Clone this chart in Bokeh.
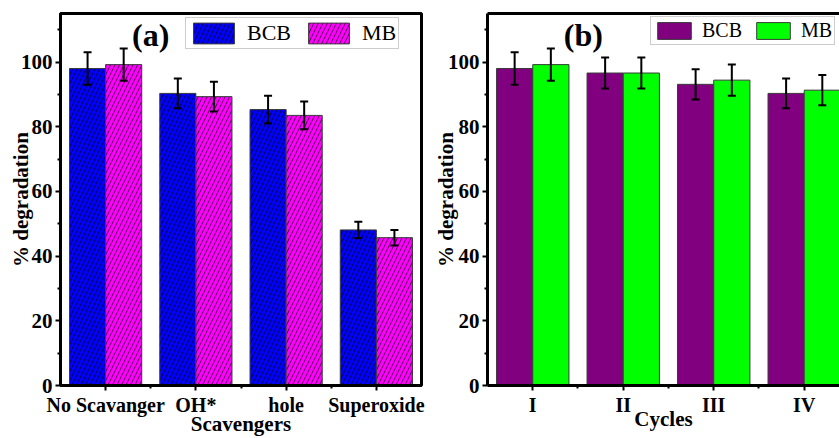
import numpy as np
from bokeh.plotting import figure
from bokeh.layouts import row
from bokeh.models import (ColumnDataSource, Range1d, FixedTicker, Whisker, TeeHead,
                          Legend, LegendItem, Label, LinearAxis)
from bokeh.transform import dodge
from bokeh.embed import file_html
from bokeh.resources import INLINE

# ---- data ----
scav_labels = ["No Scavanger", "OH*", "hole", "Superoxide"]
scav_bcb = [98.0, 90.3, 85.3, 48.1]
scav_bcb_err = [5.0, 4.6, 4.3, 2.5]
scav_mb = [99.2, 89.3, 83.5, 45.7]
scav_mb_err = [5.0, 4.6, 4.3, 2.4]

cycle_labels = ["I", "II", "III", "IV"]
cyc_bcb = [98.0, 96.6, 93.1, 90.3]
cyc_bcb_err = [5.0, 4.8, 4.7, 4.6]
cyc_mb = [99.2, 96.6, 94.4, 91.3]
cyc_mb_err = [5.0, 4.8, 4.8, 4.7]

y_ticks = [0, 20, 40, 60, 80, 100]
y_minor = [10, 30, 50, 70, 90, 110]

FONT = "Liberation Serif"


def make_panel(labels, bcb, bcb_err, mb, mb_err, c1, c2, hatch, width, border_left,
               x_end, xtitle, xt_standoff, yt_standoff, tag, tag_x, leg_loc, leg_glyph,
               leg_font, leg_standoff, leg_spacing, outline):
    n = len(labels)
    xs = list(range(n))
    src = ColumnDataSource(dict(
        x=xs, bcb=bcb, mb=mb,
        bcb_up=[v + e for v, e in zip(bcb, bcb_err)],
        bcb_lo=[v - e for v, e in zip(bcb, bcb_err)],
        mb_up=[v + e for v, e in zip(mb, mb_err)],
        mb_lo=[v - e for v, e in zip(mb, mb_err)],
    ))
    p = figure(width=width, height=438, x_range=Range1d(-0.5, x_end), y_range=Range1d(0, 115),
               output_backend="svg", toolbar_location=None,
               min_border_left=border_left, min_border_right=4 if outline else 0,
               min_border_top=13, min_border_bottom=51)
    p.grid.visible = False
    p.background_fill_color = "white"
    hk = {}
    if hatch:
        hk = dict(hatch_pattern="/", hatch_color="black", hatch_scale=9, hatch_weight=0.7)
    r1 = p.vbar(x=dodge('x', -0.2), top='bcb', width=0.4, source=src, fill_color=c1,
                line_color="#3a3a3a", line_width=1, **hk)
    r2 = p.vbar(x=dodge('x', 0.2), top='mb', width=0.4, source=src, fill_color=c2,
                line_color="#3a3a3a", line_width=1, **hk)
    for off, up, lo in [(-0.2, 'bcb_up', 'bcb_lo'), (0.2, 'mb_up', 'mb_lo')]:
        w = Whisker(base=dodge('x', off), upper=up, lower=lo, source=src, line_width=2,
                    line_color="black", level="annotation",
                    upper_head=TeeHead(size=8, line_width=2, line_color="black"),
                    lower_head=TeeHead(size=8, line_width=2, line_color="black"))
        p.add_layout(w)

    p.xaxis.ticker = FixedTicker(ticks=xs, minor_ticks=[i + 0.5 for i in xs[:-1]])
    p.xaxis.major_label_overrides = {i: lab for i, lab in enumerate(labels)}
    p.yaxis.ticker = FixedTicker(ticks=y_ticks, minor_ticks=y_minor)
    p.xaxis.axis_label = xtitle
    p.yaxis.axis_label = "% degradation"
    for ax in [p.xaxis[0], p.yaxis[0]]:
        ax.axis_line_width = 3
        ax.axis_line_color = "black"
        ax.major_tick_line_width = 2
        ax.minor_tick_line_width = 2
        ax.major_tick_in = 0
        ax.major_tick_out = 5
        ax.minor_tick_in = 0
        ax.minor_tick_out = 3
        ax.major_label_text_font = FONT
        ax.major_label_text_font_style = "bold"
        ax.major_label_text_color = "black"
        ax.axis_label_text_font = FONT
        ax.axis_label_text_font_style = "bold"
        ax.axis_label_text_font_size = "21px"
        ax.axis_label_text_color = "black"
    p.xaxis.major_label_text_font_size = "20px"
    p.yaxis.major_label_text_font_size = "21px"
    p.xaxis.major_label_standoff = 3
    p.yaxis.major_label_standoff = 3
    p.xaxis.axis_label_standoff = xt_standoff
    p.yaxis.axis_label_standoff = yt_standoff

    if outline:
        p.outline_line_color = "black"
        p.outline_line_width = 3
        p.outline_line_alpha = 1
    else:
        p.outline_line_color = None
        top = LinearAxis(ticker=FixedTicker(ticks=[]), axis_line_width=3, axis_line_color="black",
                         major_label_text_font_size="0px", major_tick_in=0, major_tick_out=0,
                         minor_tick_in=0, minor_tick_out=0, major_label_standoff=0)
        p.add_layout(top, "above")

    gw, gh = leg_glyph
    legend = Legend(items=[LegendItem(label="BCB", renderers=[r1]),
                           LegendItem(label="MB", renderers=[r2])],
                    location=leg_loc, orientation="horizontal",
                    glyph_width=gw, glyph_height=gh, label_standoff=leg_standoff,
                    spacing=leg_spacing, padding=2,
                    margin=0, label_text_font=FONT, label_text_font_size=leg_font,
                    label_text_color="black", label_height=gh,
                    border_line_color="#9a9a9a", border_line_width=1,
                    background_fill_color="white", background_fill_alpha=1)
    p.add_layout(legend, "center")

    p.add_layout(Label(x=tag_x, y=108.3, text=tag, text_font=FONT, text_font_style="bold",
                       text_font_size="32px", text_align="center", text_baseline="middle",
                       text_color="black"))
    return p


pa = make_panel(scav_labels, scav_bcb, scav_bcb_err, scav_mb, scav_mb_err,
                "#0000FF", "#FF00FF", True, 425, 60, 3.5, "Scavengers", -7, -15, "(a)", 0.5,
                (125, 336), (51, 26), "22px", 8, 12, True)
pb = make_panel(cycle_labels, cyc_bcb, cyc_bcb_err, cyc_mb, cyc_mb_err,
                "#800080", "#00FF00", False, 414, 62, 3.39, "Cycles", -12, -13, "(b)", 0.56,
                (163, 340), (42, 21), "20px", 7, 10, False)

layout = row(pa, pb)
open("out.html", "w").write(file_html(layout, INLINE))
